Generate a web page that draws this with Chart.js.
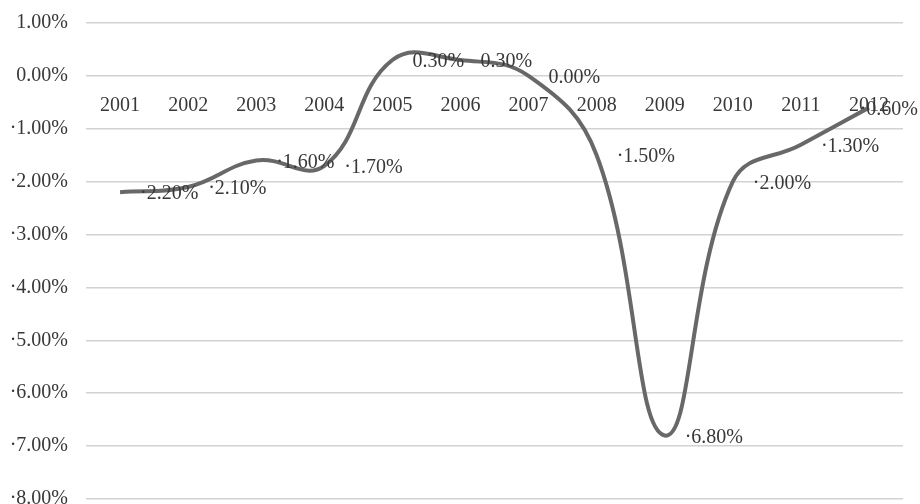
<!DOCTYPE html>
<html>
<head>
<meta charset="utf-8">
<script src="https://cdn.jsdelivr.net/npm/chart.js@4"></script>
<style>
    html, body { margin: 0; padding: 0; background: #ffffff; }
    #wrap { width: 920px; height: 504px; }
</style>
</head>
<body>
<div id="wrap"><canvas id="growthChart"></canvas></div>
<script>
// Data
const years = ['2001', '2002', '2003', '2004', '2005', '2006', '2007', '2008', '2009', '2010', '2011', '2012'];
const rates = [-2.2, -2.1, -1.6, -1.7, 0.3, 0.3, 0.0, -1.5, -6.8, -2.0, -1.3, -0.6];
const yTicks = [1, 0, -1, -2, -3, -4, -5, -6, -7, -8];

const serif = '"Liberation Serif", "DejaVu Serif", serif';

// minus sign shows as a middle dot in the original
function fmtPct(v) {
    return (v < 0 ? '\u00b7' : '') + Math.abs(v).toFixed(2) + '%';
}

// Point labels, to the right of each point
const pointLabels = {
    id: 'pointLabels',
    afterDatasetsDraw(chart) {
        const ctx = chart.ctx;
        const meta = chart.getDatasetMeta(0);
        ctx.save();
        ctx.font = '20px ' + serif;
        ctx.fillStyle = '#383838';
        ctx.textBaseline = 'middle';
        ctx.textAlign = 'left';
        meta.data.forEach((pt, i) => {
            const text = fmtPct(rates[i]);
            const w = ctx.measureText(text).width;
            let x = pt.x + 20;
            if (x + w > chart.width - 2) x = chart.width - 2 - w;
            ctx.fillText(text, x, pt.y + 2);
        });
        ctx.restore();
    }
};

function initChart() {
    const ctx = document.getElementById('growthChart').getContext('2d');
    new Chart(ctx, {
        type: 'line',
        data: {
            labels: years,
            datasets: [{
                data: rates,
                borderColor: '#686868',
                borderWidth: 4,
                pointRadius: 0,
                tension: 0.42,
                fill: false
            }]
        },
        options: {
            responsive: true,
            maintainAspectRatio: false,
            animation: false,
            layout: {
                padding: { top: 23, right: 17, bottom: 5, left: 0 }
            },
            plugins: {
                legend: { display: false },
                tooltip: { enabled: false }
            },
            scales: {
                x: {
                    position: { y: 0 },
                    offset: true,
                    grid: { display: false, drawTicks: false },
                    border: { display: false },
                    ticks: {
                        padding: 18,
                        maxRotation: 0,
                        autoSkip: false,
                        color: '#383838',
                        font: { family: serif, size: 20 }
                    }
                },
                y: {
                    min: -8,
                    max: 1,
                    afterBuildTicks: s => { s.ticks = yTicks.map(v => ({ value: v })); },
                    afterFit: s => { s.width = 86; s.paddingTop = 0; s.paddingBottom = 0; },
                    grid: { color: '#d2d2d2', lineWidth: 1.5, drawTicks: false },
                    border: { display: false },
                    ticks: {
                        padding: 18,
                        color: '#383838',
                        font: { family: serif, size: 20 },
                        callback: v => fmtPct(v)
                    }
                }
            }
        },
        plugins: [pointLabels]
    });
}

document.addEventListener('DOMContentLoaded', initChart);
</script>
</body>
</html>
